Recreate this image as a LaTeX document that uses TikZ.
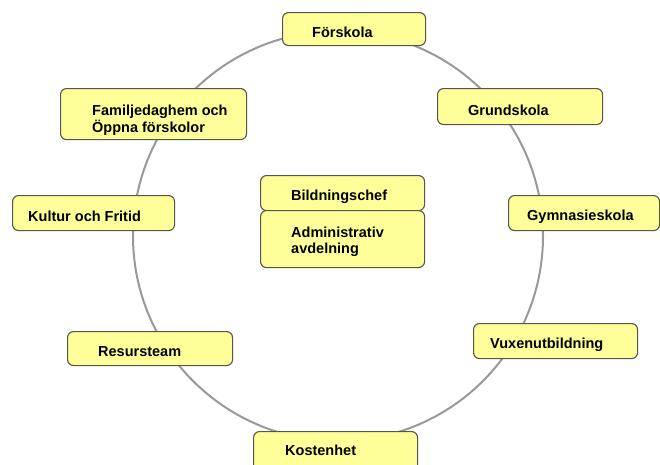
\documentclass[tikz,border=0pt]{standalone}
\usepackage{fontspec}
\setmainfont{Liberation Sans}
\definecolor{boxfill}{HTML}{FFFF99}
\definecolor{boxline}{HTML}{55554A}
\definecolor{ringcol}{HTML}{999999}
\begin{document}
\begin{tikzpicture}[x=1pt,y=-1pt,
  box/.style={draw=boxline, line width=1.1pt, fill=boxfill, rounded corners=6pt,
              inner sep=0pt, anchor=north west},
  lbl/.style={anchor=base west, inner sep=0pt, text=black,
              font=\fontsize{14.5}{17}\bfseries\selectfont},
  ring/.style={draw=ringcol, line width=2pt}]
\path[use as bounding box, clip] (0,0) rectangle (660,464);
\fill[white] (0,0) rectangle (660,464);
\draw[ring] (338,236) circle [radius=205pt];
% boxes
\node[box, minimum width=143pt, minimum height=33pt] (fk) at (282,12) {};
\node[lbl] (fkt) at (312,37) {Förskola};
\node[box, minimum width=186pt, minimum height=51pt] (fam) at (60,88) {};
\node[lbl] (famt1) at (92,115) {Familjedaghem och};
\node[lbl] (famt2) at (92,132) {Öppna förskolor};
\node[box, minimum width=164pt, minimum height=35pt] (bc) at (260,175) {};
\node[lbl] (bct) at (291,200) {Bildningschef};
\node[box, minimum width=164pt, minimum height=57pt] (adm) at (260,210) {};
\node[lbl] (admt1) at (291,237) {Administrativ};
\node[lbl] (admt2) at (291,253) {avdelning};
\node[box, minimum width=164pt, minimum height=44pt] (ko) at (253,431) {};
\node[lbl] (kot) at (285,455) {Kostenhet};
\node[box, minimum width=151pt, minimum height=35pt] (gy) at (508,195) {};
\node[lbl] (gyt) at (527,220) {Gymnasieskola};
\node[box, minimum width=164pt, minimum height=35pt] (vx) at (473,323) {};
\node[lbl] (vxt) at (490,348) {Vuxenutbildning};
\node[box, minimum width=162pt, minimum height=35pt] (ku) at (12,195) {};
\node[lbl] (kut) at (28,221) {Kultur och Fritid};
\node[box, minimum width=165pt, minimum height=34pt] (re) at (67,331) {};
\node[lbl] (ret) at (98,356) {Resursteam};
\node[box, minimum width=165pt, minimum height=36pt] (gr) at (437,88) {};
\node[lbl] (grt) at (468,115) {Grundskola};
\end{tikzpicture}
\end{document}
